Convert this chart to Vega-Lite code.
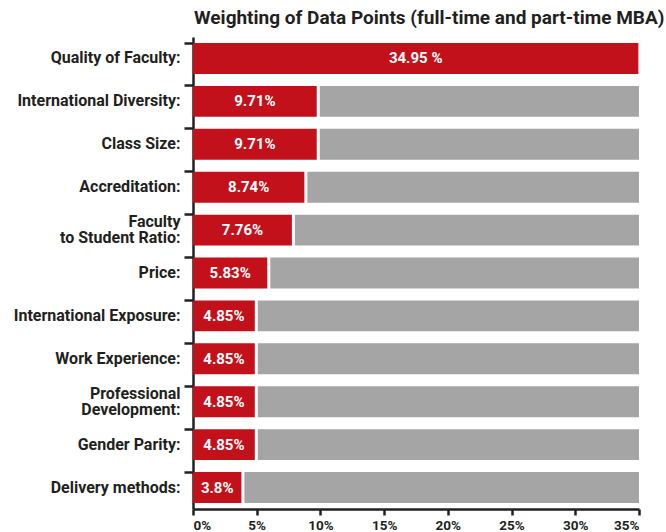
{
  "$schema": "https://vega.github.io/schema/vega-lite/v6.json",
  "autosize": "none",
  "width": 446,
  "height": 472,
  "padding": {"left": 193, "top": 37, "right": 27, "bottom": 23},
  "background": "white",
  "title": {
    "text": "Weighting of Data Points (full-time and part-time MBA)",
    "anchor": "start",
    "frame": "group",
    "offset": 9,
    "dx": 1,
    "font": "Roboto",
    "fontSize": 19,
    "fontWeight": "bold",
    "color": "#231f20"
  },
  "config": {"view": {"stroke": null}},
  "data": {
    "values": [
      {"criterion": "Quality of Faculty:", "value": 34.95, "pct": "34.95 %"},
      {"criterion": "International Diversity:", "value": 9.71, "pct": "9.71%"},
      {"criterion": "Class Size:", "value": 9.71, "pct": "9.71%"},
      {"criterion": "Accreditation:", "value": 8.74, "pct": "8.74%"},
      {"criterion": "Faculty|to Student Ratio:", "value": 7.76, "pct": "7.76%"},
      {"criterion": "Price:", "value": 5.83, "pct": "5.83%"},
      {"criterion": "International Exposure:", "value": 4.85, "pct": "4.85%"},
      {"criterion": "Work Experience:", "value": 4.85, "pct": "4.85%"},
      {"criterion": "Professional|Development:", "value": 4.85, "pct": "4.85%"},
      {"criterion": "Gender Parity:", "value": 4.85, "pct": "4.85%"},
      {"criterion": "Delivery methods:", "value": 3.8, "pct": "3.8%"}
    ]
  },
  "encoding": {
    "y": {
      "field": "criterion",
      "type": "nominal",
      "sort": ["Quality of Faculty:", "International Diversity:", "Class Size:", "Accreditation:", "Faculty|to Student Ratio:", "Price:", "International Exposure:", "Work Experience:", "Professional|Development:", "Gender Parity:", "Delivery methods:"],
      "scale": {"paddingInner": 0.28, "paddingOuter": 0.14},
      "axis": {
        "title": null,
        "labelExpr": "split(datum.label, '|')",
        "labelFont": "Roboto",
        "labelFontSize": 16,
        "labelFontWeight": "bold",
        "labelColor": "#231f20",
        "labelLineHeight": 16,
        "labelPadding": 4,
        "labelLimit": 200,
        "labelOffset": {"condition": {"test": "indexof(datum.value, '|') >= 0", "value": -8}, "value": 0},
        "bandPosition": 0,
        "domainColor": "#231f20",
        "domainWidth": 2.5,
        "tickColor": "#231f20",
        "tickWidth": 2.5,
        "tickSize": 9
      }
    }
  },
  "resolve": {"scale": {"x": "independent"}},
  "layer": [
    {
      "layer": [
        {
          "transform": [{"filter": "datum.value < 34.5"}],
          "mark": {"type": "bar", "color": "#a5a5a5", "xOffset": 3},
          "encoding": {
            "x": {"field": "value", "type": "quantitative"},
            "x2": {"datum": 35}
          }
        },
        {
          "mark": {"type": "bar", "color": "#c3111b"},
          "encoding": {
            "x": {
              "field": "value",
              "type": "quantitative",
              "scale": {"domain": [0, 35], "nice": false},
              "axis": {
                "title": null,
                "values": [0, 5, 10, 15, 20, 25, 30, 35],
                "labelExpr": "datum.value + '%'",
                "labelFlush": true,
                "labelFont": "Roboto",
                "labelFontSize": 13.5,
                "labelFontWeight": "bold",
                "labelColor": "#231f20",
                "labelPadding": 3,
                "grid": false,
                "domainColor": "#231f20",
                "domainWidth": 2.5,
                "tickColor": "#231f20",
                "tickWidth": 2.5,
                "tickSize": 6
              }
            }
          }
        }
      ]
    },
    {
      "mark": {
        "type": "text",
        "color": "white",
        "font": "Roboto",
        "fontSize": 15,
        "fontWeight": "bold",
        "align": "center",
        "baseline": "middle"
      },
      "encoding": {
        "x": {
          "field": "value",
          "type": "quantitative",
          "scale": {"domain": [0, 70], "nice": false},
          "axis": null
        },
        "text": {"field": "pct"}
      }
    }
  ]
}
